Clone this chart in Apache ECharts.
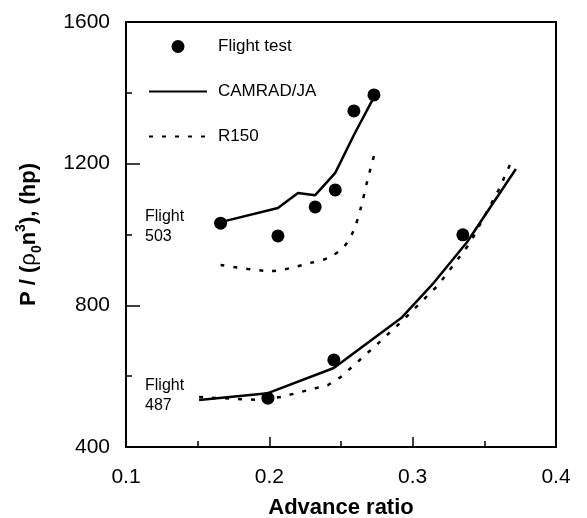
<!DOCTYPE html>
<html>
<head>
<meta charset="utf-8">
<script src="https://cdn.jsdelivr.net/npm/echarts@6/dist/echarts.min.js"></script>
<style>
  html, body { margin: 0; padding: 0; background: #fff; }
  #chart { width: 587px; height: 518px; }
</style>
</head>
<body>
<div id="chart"></div>
<script>
  // flight test points (advance ratio, power)
  const flightTest = [
    [0.166, 1032], [0.206, 996], [0.232, 1078], [0.246, 1126], [0.259, 1349], [0.273, 1394],
    [0.199, 538], [0.245, 646], [0.335, 999]
  ];

  // CAMRAD/JA predictions
  const camrad503 = [
    [0.166, 1035], [0.206, 1075], [0.220, 1117], [0.232, 1111], [0.246, 1174], [0.259, 1281], [0.273, 1388]
  ];
  const camrad487 = [
    [0.151, 533], [0.199, 552], [0.245, 623], [0.264, 680], [0.292, 764], [0.315, 865], [0.338, 979], [0.372, 1185]
  ];

  // R150 predictions
  const r150_503 = [
    [0.166, 914], [0.201, 897], [0.229, 920], [0.241, 934], [0.252, 965], [0.259, 1013],
    [0.264, 1078], [0.2685, 1154], [0.273, 1222]
  ];
  const r150_487 = [
    [0.151, 541], [0.192, 533], [0.208, 541], [0.241, 575], [0.250, 598], [0.273, 682],
    [0.292, 753], [0.318, 858], [0.340, 976], [0.360, 1126], [0.370, 1216]
  ];

  const xTicks = { min: 0.1, max: 0.4, step: 0.1 };
  const yTicks = { min: 400, max: 1600, step: 400 };

  const font = "Liberation Sans";
  const chart = echarts.init(document.getElementById("chart"));

  const solid = { color: "#000", width: 2.5, type: "solid" };
  const dotted = { color: "#000", width: 2.5, type: [4, 9] };

  chart.setOption({
    animation: false,
    backgroundColor: "#fff",
    textStyle: { fontFamily: font, color: "#000" },
    grid: {
      left: 126, right: 31, top: 22, bottom: 71,
      show: true, borderColor: "#000", borderWidth: 2,
      outerBoundsMode: "none"
    },
    legend: {
      orient: "vertical",
      left: 143,
      top: 33,
      itemWidth: 58,
      itemHeight: 13,
      itemGap: 28,
      data: [
        "Flight test",
        { name: "CAMRAD/JA", itemStyle: { opacity: 0 } },
        { name: "R150", itemStyle: { opacity: 0 } }
      ],
      textStyle: { fontSize: 17, color: "#000", fontFamily: font, padding: [0, 0, 0, 6] }
    },
    xAxis: {
      type: "value",
      min: xTicks.min, max: xTicks.max, interval: xTicks.step,
      name: "Advance ratio",
      nameLocation: "middle",
      nameGap: 50,
      nameTextStyle: { fontSize: 22, fontWeight: "bold", color: "#000", fontFamily: font },
      axisLine: { lineStyle: { color: "#000", width: 2 } },
      axisTick: { inside: true, length: 10, lineStyle: { color: "#000", width: 1.5 } },
      minorTick: { show: true, splitNumber: 2, length: 6, lineStyle: { color: "#000", width: 1.5 } },
      splitLine: { show: false },
      axisLabel: {
        fontSize: 21, color: "#000", margin: 20, fontFamily: font,
        formatter: v => v.toFixed(1)
      }
    },
    yAxis: {
      type: "value",
      min: yTicks.min, max: yTicks.max, interval: yTicks.step,
      name: "P / ({g|ρ}{sub|0}n{sup|3}), (hp)",
      nameLocation: "middle",
      nameGap: 82,
      nameTextStyle: {
        fontSize: 22, fontWeight: "bold", color: "#000", fontFamily: font, lineHeight: 30,
        rich: {
          g: { fontSize: 22, fontWeight: "normal", fontFamily: font, color: "#000" },
          sub: { fontSize: 14, fontWeight: "bold", verticalAlign: "bottom", lineHeight: 30, fontFamily: font, color: "#000" },
          sup: { fontSize: 14, fontWeight: "bold", verticalAlign: "top", lineHeight: 30, fontFamily: font, color: "#000" }
        }
      },
      axisLine: { show: true, lineStyle: { color: "#000", width: 2 } },
      axisTick: { show: true, inside: true, length: 14, lineStyle: { color: "#000", width: 1.5 } },
      minorTick: { show: true, splitNumber: 2, length: 6, lineStyle: { color: "#000", width: 1.5 } },
      splitLine: { show: false },
      axisLabel: { fontSize: 21, color: "#000", margin: 16, fontFamily: font, formatter: v => String(v) }
    },
    graphic: [
      { type: "text", left: 145, top: 207, style: { text: "Flight\n503", fontSize: 16, lineHeight: 20, fontFamily: font, fill: "#000" } },
      { type: "text", left: 145, top: 376, style: { text: "Flight\n487", fontSize: 16, lineHeight: 20, fontFamily: font, fill: "#000" } }
    ],
    series: [
      {
        name: "CAMRAD/JA", type: "line", data: camrad503,
        symbol: "none", lineStyle: solid, itemStyle: { color: "#000" }
      },
      {
        name: "CAMRAD/JA", type: "line", data: camrad487,
        symbol: "none", lineStyle: solid, itemStyle: { color: "#000" }
      },
      {
        name: "R150", type: "line", data: r150_503, smooth: 0.3,
        symbol: "none", lineStyle: dotted, itemStyle: { color: "#000" }
      },
      {
        name: "R150", type: "line", data: r150_487,
        symbol: "none", lineStyle: dotted, itemStyle: { color: "#000" }
      },
      {
        name: "Flight test", type: "scatter", data: flightTest,
        symbol: "circle", symbolSize: 13, itemStyle: { color: "#000", opacity: 1 }, z: 5
      }
    ]
  });
</script>
</body>
</html>
